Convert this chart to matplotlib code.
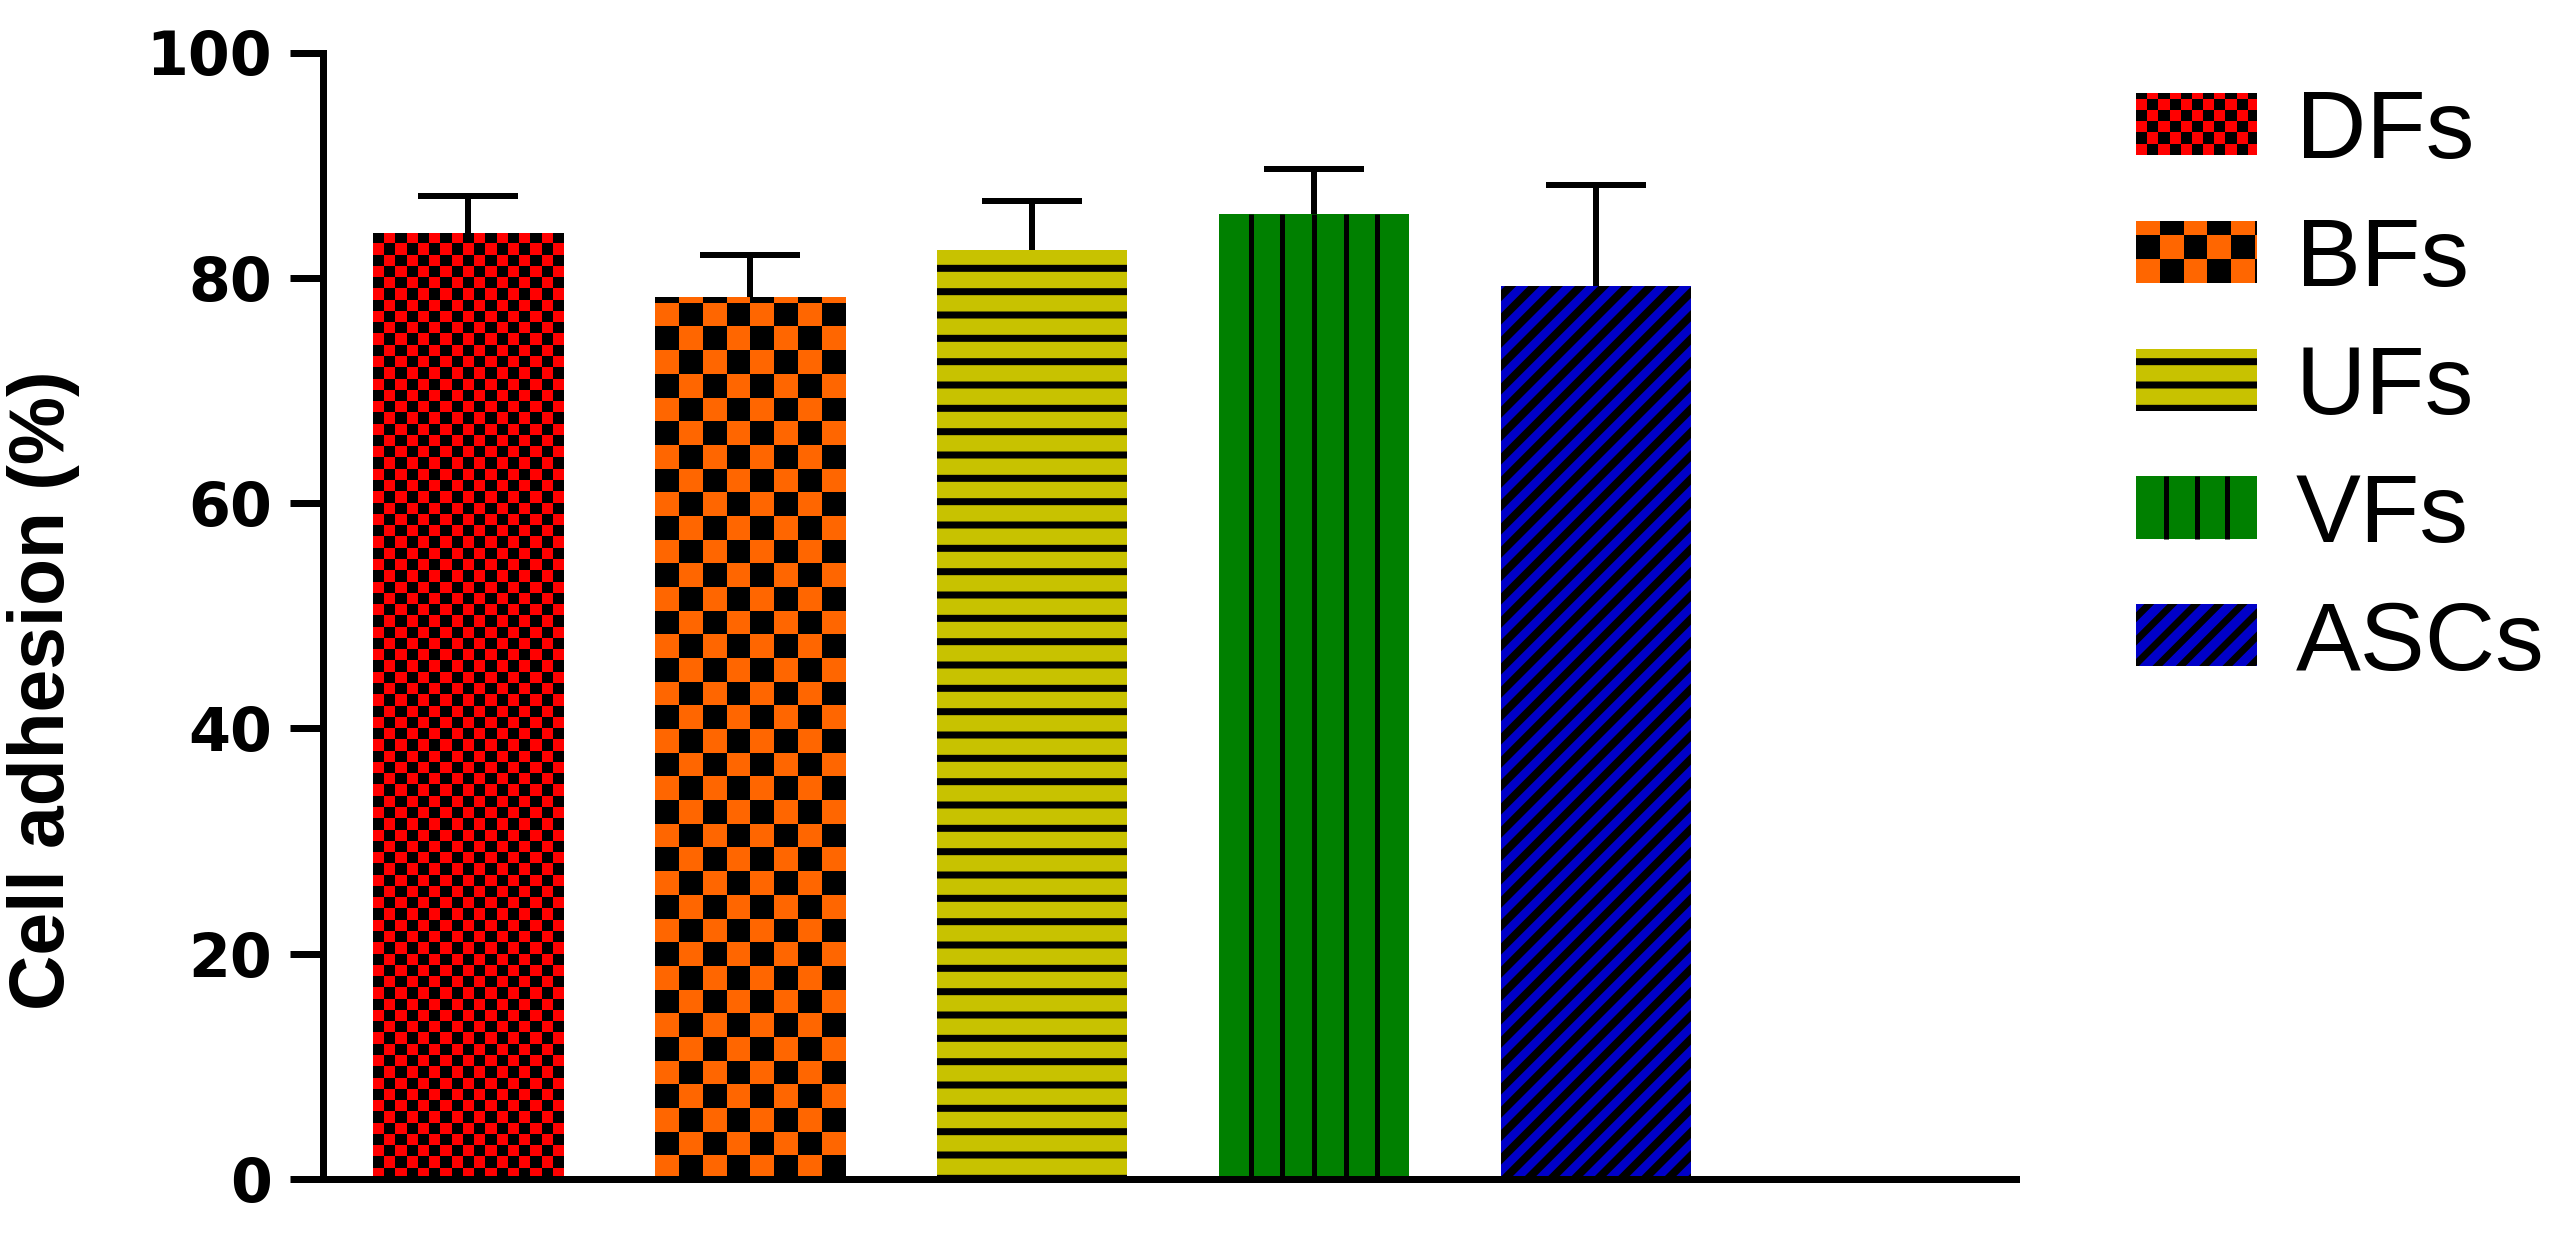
import numpy as np
import matplotlib.pyplot as plt
from matplotlib.colors import ListedColormap
from matplotlib.legend_handler import HandlerBase
from matplotlib.patches import Rectangle
from matplotlib.lines import Line2D

groups = ['DFs', 'BFs', 'UFs', 'VFs', 'ASCs']
adhesion = [84.0, 78.3, 82.5, 85.7, 79.3]
adhesion_sd = [3.3, 3.7, 4.3, 4.0, 8.9]
yticks = [0, 20, 40, 60, 80, 100]

# styles
colors = ['#FF0000', '#FF6600', '#C8C200', '#008000', '#0000C8']
fills = ['checker_small', 'checker_big', 'hlines', 'vlines', 'diag']

DPI = 140
PX = 72 / DPI  # points per pixel


class PatternHandler(HandlerBase):
    # legend swatch for fills that matplotlib hatches can't do
    def __init__(self, color, kind, cell=None):
        super().__init__()
        self.color = color
        self.kind = kind
        self.cell = cell

    def create_artists(self, legend, orig_handle, xdescent, ydescent,
                       width, height, fontsize, trans):
        x0, y0 = -xdescent, -ydescent
        arts = [Rectangle((x0, y0), width, height, facecolor=self.color,
                          edgecolor='none', transform=trans)]
        if self.kind == 'checker':
            c = self.cell
            nx = int(np.ceil(width / c))
            ny = int(np.ceil(height / c))
            for i in range(ny):
                for j in range(nx):
                    if (i + j) % 2 == 0:
                        continue
                    w = min(c, width - j * c)
                    h = min(c, height - i * c)
                    arts.append(Rectangle((x0 + j * c, y0 + i * c), w, h,
                                          facecolor='black', edgecolor='none',
                                          transform=trans))
        elif self.kind == 'vlines':
            for k in range(1, 4):
                xx = x0 + width * k / 4
                arts.append(Line2D([xx, xx], [y0, y0 + height], color='black',
                                   lw=5 * PX, solid_capstyle='butt',
                                   transform=trans))
        return arts


plt.rcParams['hatch.linewidth'] = 7 * PX

fig = plt.figure(figsize=(2575 / DPI, 1233 / DPI), dpi=DPI)
ax = fig.add_axes([323 / 2575, 1 - 1179 / 1233, (2016 - 323) / 2575,
                   (1179 - 52.5) / 1233])

x = np.arange(len(groups))
width = 0.674
containers = []
handler_map = {}
for i in range(len(groups)):
    kind = fills[i]
    hatch = {'hlines': '-', 'diag': '//'}.get(kind)
    bc = ax.bar(x[i], adhesion[i], width, color=colors[i], edgecolor='black',
                linewidth=0, hatch=hatch, label=groups[i], zorder=2,
                yerr=[[0], [adhesion_sd[i]]], capsize=50 * PX,
                error_kw=dict(elinewidth=6 * PX, capthick=6 * PX,
                              ecolor='black', zorder=4))
    bar = bc.patches[0]
    if kind == 'diag' and hasattr(bar, 'set_hatch_linewidth'):
        bar.set_hatch_linewidth(8 * PX)
    # only the upper half of the error bar is shown
    bc.errorbar.lines[1][0].set_visible(False)

    if kind.startswith('checker'):
        ncol, cell_h = (17, 1.0) if kind == 'checker_small' else (8, 2.1)
        nrow = int(np.ceil(adhesion[i] / cell_h))
        grid = np.add.outer(np.arange(nrow), np.arange(ncol)) % 2
        im = ax.imshow(grid, cmap=ListedColormap([colors[i], 'black']),
                       extent=(bar.get_x(), bar.get_x() + bar.get_width(),
                               0, nrow * cell_h),
                       origin='lower', aspect='auto',
                       interpolation='nearest', zorder=2.1)
        im.set_clip_path(bar)
        cell_pt = bar.get_width() / ncol * (2016 - 323) / (5.49 + 0.514) * PX
        handler_map[bc] = PatternHandler(colors[i], 'checker', cell_pt)
    elif kind == 'vlines':
        xs = bar.get_x() + bar.get_width() * np.arange(1, 6) / 6
        ax.vlines(xs, 0, adhesion[i], colors='black', linewidth=5 * PX,
                  zorder=2.2)
        handler_map[bc] = PatternHandler(colors[i], 'vlines')
    containers.append(bc)

ax.set_xlim(-0.514, 5.49)
ax.set_ylim(0, 100)
ax.set_yticks(yticks)
ax.set_yticklabels([str(t) for t in yticks], fontfamily='DejaVu Sans',
                   fontweight='bold', fontsize=31)
ax.tick_params(axis='y', length=33 * PX, width=7 * PX, pad=18 * PX)
ax.tick_params(axis='x', length=0, labelbottom=False)
for s in ['top', 'right']:
    ax.spines[s].set_visible(False)
for s in ['left', 'bottom']:
    ax.spines[s].set_linewidth(7 * PX)

ax.set_ylabel('Cell adhesion (%)', fontfamily='Liberation Sans',
              fontweight='bold', fontsize=39.5)
ax.yaxis.set_label_coords(-0.1435, 0.434)

fig.legend(handles=containers, labels=groups, loc='upper left',
           bbox_to_anchor=(2136 / 2575, 1 - 88 / 1233), frameon=False,
           prop={'family': 'Liberation Sans', 'size': 50},
           handlelength=1.245, handleheight=0.605, handletextpad=0.4,
           labelspacing=0.39, borderpad=0, borderaxespad=0,
           handler_map=handler_map)

fig.savefig('out.png', dpi=DPI)
